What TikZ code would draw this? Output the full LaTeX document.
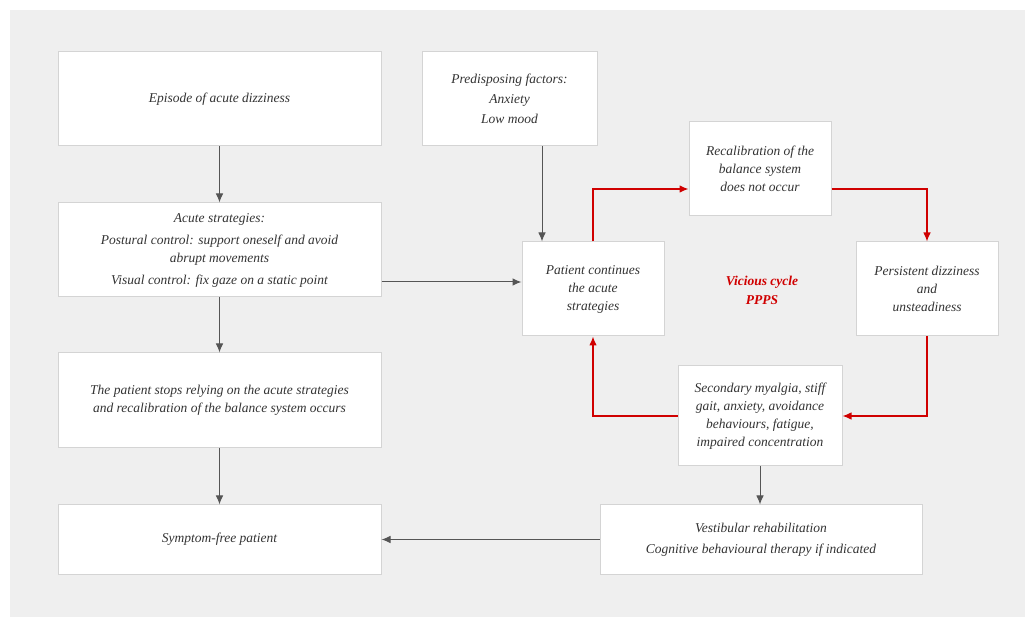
\documentclass[tikz,border=0pt]{standalone}
\usepackage{fontspec}
\setmainfont{Liberation Serif}
\usepackage{tikz}
\usetikzlibrary{arrows.meta}

\definecolor{bggray}{HTML}{EFEFEF}
\definecolor{boxline}{HTML}{D4D4D4}
\definecolor{txtgray}{HTML}{333333}
\definecolor{arrgray}{HTML}{555555}
\definecolor{cyclered}{HTML}{D00000}

\tikzset{
    stepbox/.style={draw=boxline, line width=1pt, fill=white, align=center,
        text=txtgray, font=\fontsize{13.5}{18}\selectfont\itshape, inner sep=2pt},
    flow/.style={color=arrgray, line width=1pt, -{Latex[length=9pt, width=7.5pt]}},
    redflow/.style={color=cyclered, line width=1.1pt, -{Latex[length=9pt, width=7.5pt]}}
}

\begin{document}
\begin{tikzpicture}[x=1pt, y=-1pt]
                \fill [white] (0, 0) rectangle (1026, 617);
                \fill [bggray] (10, 10) rectangle (1025, 617);
                \node [stepbox, minimum width=323pt, minimum height=94pt] (epis) at (219.5, 99) {Episode of acute dizziness};
                \node [stepbox, minimum width=323pt, minimum height=94pt] (acute) at (219.5, 250) {Acute strategies:\\[4pt] Postural control: support oneself and avoid\\ abrupt movements\\[4pt] Visual control: fix gaze on a static point};
                \node [stepbox, minimum width=323pt, minimum height=95pt] (stops) at (219.5, 400.5) {The patient stops relying on the acute strategies\\ and recalibration of the balance system occurs};
                \node [stepbox, minimum width=323pt, minimum height=69pt] (free) at (219.5, 539.5) {Symptom-free patient};
                \node [stepbox, minimum width=175pt, minimum height=94pt] (predis) at (509.5, 99) {Predisposing factors:\\[2pt] Anxiety\\[2pt] Low mood};
                \node [stepbox, minimum width=142pt, minimum height=94pt] (cont) at (593, 289) {Patient continues\\ the acute\\ strategies};
                \node [stepbox, minimum width=142pt, minimum height=94pt] (recal) at (760, 169) {Recalibration of the\\ balance system\\ does not occur};
                \node [stepbox, minimum width=142pt, minimum height=94pt] (persist) at (927, 289) {Persistent dizziness\\ and\\ unsteadiness};
                \node [stepbox, minimum width=164pt, minimum height=100pt] (second) at (760, 416) {Secondary myalgia, stiff\\ gait, anxiety, avoidance\\ behaviours, fatigue,\\ impaired concentration};
                \node [stepbox, minimum width=322pt, minimum height=69pt] (vest) at (761, 539.5) {Vestibular rehabilitation\\[3pt] Cognitive behavioural therapy if indicated};
                \node [text=cyclered, align=center, font=\fontsize{13.5}{19}\selectfont\itshape\bfseries] (vicious) at (762, 290) {Vicious cycle\\ PPPS};
                \coordinate (contin) at ([yshift=7pt]cont.west);
                \coordinate (predout) at ([xshift=32.5pt]predis.south);
                \coordinate (recalin) at ([yshift=-20pt]recal.west);
                \coordinate (recalout) at ([yshift=-20pt]recal.east);
                \draw [flow] (epis) -- (acute);
                \draw [flow] (acute) -- (stops);
                \draw [flow] (stops) -- (free);
                \draw [flow] (acute.east |- contin) -- (contin);
                \draw [flow] (predout) -- (predout |- cont.north);
                \draw [flow] (second) -- (second.south |- vest.north);
                \draw [flow] (vest) -- (free);
                \draw [redflow] (cont.north) |- (recalin);
                \draw [redflow] (recalout) -| (persist.north);
                \draw [redflow] (persist.south) |- (second.east);
                \draw [redflow] (second.west) -| (cont.south);
            \end{tikzpicture}
\end{document}
